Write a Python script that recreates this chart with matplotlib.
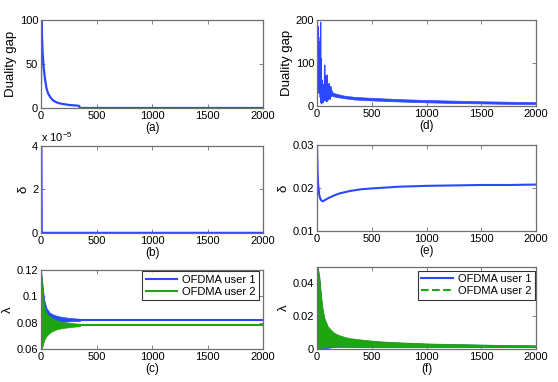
import numpy as np
import matplotlib
matplotlib.use("Agg")
import matplotlib.pyplot as plt
from matplotlib.ticker import FuncFormatter

plt.rcParams['font.family'] = ['Liberation Sans', 'DejaVu Sans']
plt.rcParams['mathtext.fontset'] = 'custom'
plt.rcParams['mathtext.rm'] = 'Liberation Sans'

BLUE = "#2a48ff"
GREEN = "#1ea512"
EDGE = "#6e6e6e"

# (a) duality gap, OFDMA
a_x = [0, 3, 8, 15, 25, 36, 50, 66, 85, 110, 140, 160, 200, 250, 300, 335, 345, 350, 2000]
a_y = [27, 100, 85, 62, 45, 33, 22, 16, 12, 8.5, 6.5, 5.5, 4.5, 3.5, 3.0, 2.6, 2.2, 0, 0]

# (b) delta, OFDMA
b_x = [0, 2, 5, 2000]
b_y = [4e-5, 4e-5, 0, 0]

# (c) lambda, oscillation envelopes then steady values
c_x = [0, 10, 20, 30, 50, 75, 100, 150, 200, 250, 300, 350]
c_blue_hi = [0.12, 0.112, 0.104, 0.097, 0.091, 0.088, 0.0865, 0.0850, 0.0842, 0.0837, 0.0833, 0.0830]
c_blue_lo = [0.06, 0.066, 0.071, 0.074, 0.077, 0.079, 0.0800, 0.0805, 0.0808, 0.0810, 0.0812, 0.0813]
c_green_hi = [0.12, 0.108, 0.098, 0.092, 0.087, 0.085, 0.0835, 0.0815, 0.0805, 0.0800, 0.0795, 0.0792]
c_green_lo = [0.06, 0.061, 0.064, 0.067, 0.070, 0.072, 0.0735, 0.0752, 0.0760, 0.0765, 0.0770, 0.0773]
c_tail_x = [350, 2000]
c_blue_tail = [0.0818, 0.0818]
c_green_tail = [0.0782, 0.0782]

# (d) duality gap, second scheme: noisy start then slow band
d_x = [0, 3, 6, 9, 12, 15, 18, 21, 24, 27, 30, 33, 36, 39, 42, 46, 50, 54, 58, 62,
       66, 70, 74, 78, 82, 86, 90, 94, 98, 102, 106, 110, 114, 118, 122, 126, 130,
       134, 138, 142, 146, 150]
d_y = [60, 200, 40, 185, 70, 160, 30, 120, 50, 150, 20, 195, 8, 110, 5, 60, 10, 35,
       8, 50, 15, 95, 12, 70, 20, 60, 10, 72, 18, 48, 14, 52, 20, 40, 16, 45, 22,
       36, 24, 32, 26, 28]
d_band_x = [140, 200, 250, 350, 500, 750, 1000, 1250, 1500, 1750, 2000]
d_band_hi = [31, 27, 24, 21, 19, 16, 14, 12.5, 11, 10, 9]
d_band_lo = [23, 20, 18, 15, 13, 10.5, 8.5, 7, 6, 5, 4.5]

# (e) delta, second scheme
e_x = [0, 5, 10, 20, 30, 40, 50, 60, 80, 100, 150, 200, 300, 400, 500, 750,
       1000, 1250, 1500, 1750, 2000]
e_y = [0.030, 0.024, 0.0210, 0.0185, 0.0175, 0.0171, 0.0169, 0.0170, 0.0173,
       0.0176, 0.0182, 0.0187, 0.0193, 0.0197, 0.0199, 0.0203, 0.0205, 0.0206,
       0.0207, 0.0207, 0.0208]

# (f) lambda, second scheme: oscillation envelopes
f_x = [0, 6, 20, 36, 50, 67, 97, 130, 158, 200, 250, 300, 400, 550, 700, 855, 1000, 1500, 2000]
f_green_hi = [0.05, 0.05, 0.045, 0.033, 0.025, 0.019, 0.014, 0.0115, 0.0098, 0.0085,
              0.0074, 0.0066, 0.0058, 0.0048, 0.0042, 0.0038, 0.0034, 0.0027, 0.0022]
f_green_lo = [0.0, 0.0, 0.0002, 0.0005, 0.0008, 0.0011, 0.0014, 0.0016, 0.0018, 0.0017,
              0.0016, 0.0015, 0.0013, 0.0012, 0.0012, 0.0012, 0.0012, 0.0012, 0.0012]
f_blue_hi = [0.05, 0.049, 0.044, 0.032, 0.024, 0.018, 0.013, 0.0108, 0.0092, 0.0080,
             0.0070, 0.0062, 0.0054, 0.0045, 0.0040, 0.0036, 0.0032, 0.0026, 0.0021]
f_blue_lo = [0.0, 0.0, 0.0, 0.0, 0.0002, 0.0004, 0.0007, 0.0010, 0.0012, 0.0013,
             0.0013, 0.0013, 0.0012, 0.0011, 0.0011, 0.0011, 0.0011, 0.0011, 0.0011]

captions = ["(a)", "(b)", "(c)", "(d)", "(e)", "(f)"]

W, H = 558, 382
fig = plt.figure(figsize=(W / 100, H / 100), dpi=100)


def add_axes(x0, x1, y0, y1):
    return fig.add_axes([x0 / W, 1 - y1 / H, (x1 - x0) / W, (y1 - y0) / H])


def style(ax, ylim, yticks, ylabel, caption, fmt=None):
    ax.set_xlim(0, 2000)
    ax.set_ylim(*ylim)
    ax.set_xticks([0, 500, 1000, 1500, 2000])
    ax.set_yticks(yticks)
    if fmt is None:
        fmt = lambda v, p: "%g" % v
    ax.yaxis.set_major_formatter(FuncFormatter(fmt))
    ax.tick_params(direction="in", length=3, width=0.6, color=EDGE,
                   top=True, right=True, labelsize=8, pad=2)
    for s in ax.spines.values():
        s.set_color(EDGE)
        s.set_linewidth(0.9)
    ax.set_ylabel(ylabel, fontsize=9.5, labelpad=2)
    ax.set_xlabel(caption, fontsize=8.5, labelpad=1)


# left column
ax_a = add_axes(41, 263, 20, 108)
ax_a.plot(a_x, a_y, color=BLUE, lw=1.6)
style(ax_a, (0, 100), [0, 50, 100], "Duality gap", captions[0])

ax_b = add_axes(41, 263, 146, 233)
ax_b.plot(b_x, b_y, color=BLUE, lw=1.8)
style(ax_b, (0, 4e-5), [0, 2e-5, 4e-5], "δ", captions[1],
      fmt=lambda v, p: "%g" % round(v / 1e-5, 6))
ax_b.text(0.0, 1.02, "x 10$^{-5}$", transform=ax_b.transAxes, fontsize=8,
          ha="left", va="bottom")

ax_c = add_axes(41, 263, 270, 349)
ax_c.fill_between(c_x, c_blue_lo, c_blue_hi, color=BLUE, lw=0.5)
ax_c.fill_between(c_x, c_green_lo, c_green_hi, color=GREEN, lw=0.5)
ax_c.plot(c_tail_x, c_blue_tail, color=BLUE, lw=1.5, label="OFDMA user 1")
ax_c.plot(c_tail_x, c_green_tail, color=GREEN, lw=1.5, label="OFDMA user 2")
style(ax_c, (0.06, 0.12), [0.06, 0.08, 0.1, 0.12], "λ", captions[2])
leg = ax_c.legend(loc="upper right", bbox_to_anchor=(0.982, 0.985), fontsize=8,
                  frameon=True, fancybox=False, handlelength=2.8, borderpad=0.3,
                  labelspacing=0.2, handletextpad=0.5, borderaxespad=0)
leg.get_frame().set_edgecolor("black")
leg.get_frame().set_linewidth(0.8)

# right column
ax_d = add_axes(317, 536, 20, 106)
ax_d.plot(d_x, d_y, color=BLUE, lw=0.9)
ax_d.fill_between(d_band_x, d_band_lo, d_band_hi, color=BLUE, lw=0.5)
style(ax_d, (0, 200), [0, 100, 200], "Duality gap", captions[3])

ax_e = add_axes(317, 536, 145, 231)
ax_e.plot(e_x, e_y, color=BLUE, lw=1.5)
style(ax_e, (0.01, 0.03), [0.01, 0.02, 0.03], "δ", captions[4])

ax_f = add_axes(317, 536, 267, 349)
ax_f.fill_between(f_x, f_blue_lo, f_blue_hi, color=BLUE, lw=0.5)
ax_f.fill_between(f_x, f_green_lo, f_green_hi, color=GREEN, lw=0.5)
ax_f.plot([], [], color=BLUE, lw=1.5, label="OFDMA user 1")
ax_f.plot([], [], color=GREEN, lw=1.5, ls="--", label="OFDMA user 2")
style(ax_f, (0, 0.05), [0, 0.02, 0.04], "λ", captions[5])
leg = ax_f.legend(loc="upper right", bbox_to_anchor=(0.995, 0.955), fontsize=8,
                  frameon=True, fancybox=False, handlelength=2.8, borderpad=0.3,
                  labelspacing=0.2, handletextpad=0.5, borderaxespad=0)
leg.get_frame().set_edgecolor("black")
leg.get_frame().set_linewidth(0.8)

fig.savefig("out.png", dpi=100)
